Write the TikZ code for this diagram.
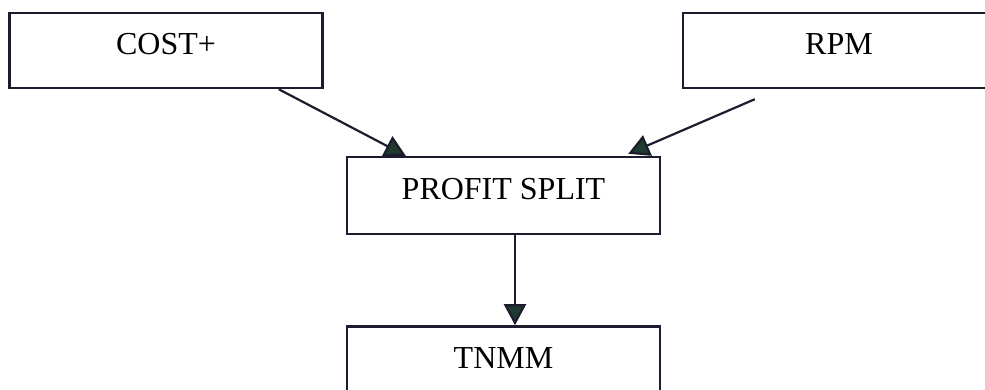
\documentclass[tikz,border=0pt]{standalone}
\usepackage{fontspec}
\setmainfont{Liberation Serif}
\usepackage{tikz}
\usetikzlibrary{arrows.meta,positioning,calc}
\definecolor{inkline}{HTML}{1C1C2E}
\definecolor{tipgreen}{HTML}{1F3B30}

\begin{document}
\begin{tikzpicture}[
  x=1pt, y=1pt,
  methodbox/.style={draw=inkline, line width=2.4pt, rectangle, minimum width=313pt,
                    minimum height=75pt, inner sep=0pt, text height=21pt, text depth=13pt,
                    font=\fontsize{32}{38}\selectfont, align=center},
  arr/.style={-{Triangle[length=21pt, width=22pt, fill=tipgreen]}, line width=2.2pt, draw=inkline}
]
  \useasboundingbox (0,0) rectangle (985,-389);
  \clip (0,0) rectangle (985,-389);
  \node[methodbox] (cost) at (166,-50.5) {COST+};
  \node[methodbox, minimum width=312pt] (rpm) at (839,-50.5) {RPM};
  \node[methodbox, minimum height=77pt] (ps) at (503.5,-195.5) {PROFIT SPLIT};
  \node[methodbox, minimum height=77pt, below=90pt of ps] (tnmm) {TNMM};
  \coordinate (rpmout) at ($(rpm.south west)+(73,-10)$);
  \draw[arr] ($(cost.south east)+(-45,0)$) -- ($(ps.north west)+(60,0)$);
  \draw[arr] (rpmout) -- ($(ps.north east)+(-33,2)$);
  \draw[arr] ($(ps.south)+(11.5,0)$) -- ($(tnmm.north)+(11.5,0)$);
\end{tikzpicture}
\end{document}
